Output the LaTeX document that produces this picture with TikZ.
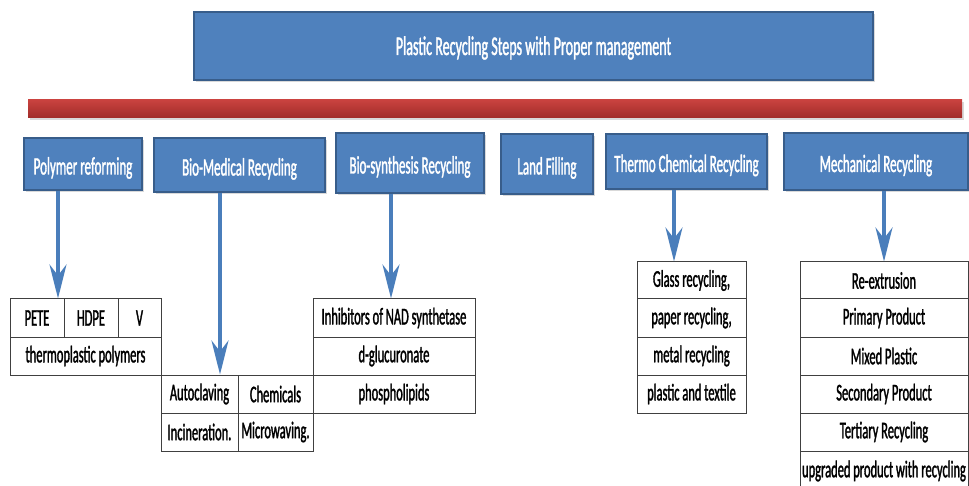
\documentclass[tikz,border=0pt]{standalone}
\usepackage{fontspec}
\setmainfont{Carlito}[FakeStretch=0.52,FakeBold=1.3]
\usetikzlibrary{arrows.meta,shadows}
\definecolor{boxblue}{HTML}{4F81BD}
\definecolor{boxedge}{HTML}{385D8A}
\definecolor{arrblue}{HTML}{4A7EBB}
\definecolor{barred}{HTML}{C9423F}
\definecolor{bardark}{HTML}{A02C29}
\definecolor{gridc}{HTML}{404040}
\begin{document}
\begin{tikzpicture}[x=1pt,y=-1pt,
 hdr/.style={draw=boxedge, line width=2pt, fill=boxblue, text=white, inner sep=0pt,
   font=\fontsize{25}{28}\selectfont, text height=21pt, text depth=0pt,
   drop shadow={opacity=0.3,shadow xshift=1.5pt,shadow yshift=-2pt}},
 cell/.style={draw=gridc, line width=1pt, inner sep=0pt, font=\fontsize{24}{26}\selectfont, text=black},
 arr/.style={arrblue, line width=3.5pt, -{Stealth[length=34pt,width=17pt,inset=11pt]}},
]
\useasboundingbox (0,0) rectangle (969,486);
\clip (0,0) rectangle (969,486);
% title
\node[hdr, minimum width=679pt, minimum height=68pt, font=\fontsize{27}{30}\selectfont, text height=18pt] (title) at (533.5,46) {Plastic Recycling Steps with Proper management};
% red bar
\node[draw=none, top color=barred, bottom color=bardark, minimum width=934pt, minimum height=18pt, inner sep=0pt,
  drop shadow={opacity=0.3,shadow xshift=1.5pt,shadow yshift=-2pt}] (bar) at (495,109) {};
% headers
\node[hdr, minimum width=118pt, minimum height=52pt] (pr) at (83,164) {Polymer reforming};
\node[hdr, minimum width=171pt, minimum height=54pt] (bm) at (239.5,165) {Bio-Medical Recycling};
\node[hdr, minimum width=148pt, minimum height=60pt] (bs) at (410,163) {Bio-synthesis Recycling};
\node[hdr, minimum width=92pt, minimum height=60pt] (lf) at (547,164) {Land Filling};
\node[hdr, minimum width=161pt, minimum height=55pt] (tc) at (686.5,161.5) {Thermo Chemical Recycling};
\node[hdr, minimum width=184pt, minimum height=57pt] (mr) at (876,161.5) {Mechanical Recycling};
% polymer table
\node[cell, minimum width=54pt, minimum height=38pt] (pete) at (37,318) {PETE};
\node[cell, minimum width=54pt, minimum height=38pt] (hdpe) at (91,318) {HDPE};
\node[cell, minimum width=43pt, minimum height=38pt] (v) at (139.5,318) {V};
\node[cell, minimum width=151pt, minimum height=38pt] (thermo) at (85.5,356) {thermoplastic polymers};
% bio-medical table
\node[cell, minimum width=77pt, minimum height=38pt] (auto) at (199.5,394) {Autoclaving};
\node[cell, minimum width=75pt, minimum height=38pt] (chem) at (275.5,394) {Chemicals};
\node[cell, minimum width=77pt, minimum height=38pt] (inc) at (199.5,432) {Incineration.};
\node[cell, minimum width=75pt, minimum height=38pt] (micro) at (275.5,432) {Microwaving.};
% bio-synthesis table
\node[cell, minimum width=162pt, minimum height=38pt] (nad) at (394,318) {Inhibitors of NAD synthetase};
\node[cell, minimum width=162pt, minimum height=38pt] (dglu) at (394,356) {d-glucuronate};
\node[cell, minimum width=162pt, minimum height=38pt] (phos) at (394,394) {phospholipids};
% thermo table
\node[cell, minimum width=109pt, minimum height=37pt] (glass) at (691.5,280.5) {Glass recycling,};
\node[cell, minimum width=109pt, minimum height=38pt] (paper) at (691.5,318) {paper recycling,};
\node[cell, minimum width=109pt, minimum height=38pt] (metal) at (691.5,356) {metal recycling};
\node[cell, minimum width=109pt, minimum height=38pt] (plast) at (691.5,394) {plastic and textile};
% mechanical table
\node[cell, minimum width=168pt, minimum height=37pt] (reex) at (884,280.5) {Re-extrusion};
\node[cell, minimum width=168pt, minimum height=38pt] (prim) at (884,318) {Primary Product};
\node[cell, minimum width=168pt, minimum height=38pt] (mix) at (884,356) {Mixed Plastic};
\node[cell, minimum width=168pt, minimum height=38pt] (sec) at (884,394) {Secondary Product};
\node[cell, minimum width=168pt, minimum height=38pt] (tert) at (884,432) {Tertiary Recycling};
\node[cell, minimum width=168pt, minimum height=40pt] (upg) at (884,471) {upgraded product with recycling};
% arrows
\draw[arr] ([xshift=-25pt]pr.south) -- ([xshift=-25pt]pr.south |- pete.north);
\draw[arr] ([xshift=-19.5pt]bm.south) -- ([xshift=-19.5pt]bm.south |- auto.north);
\draw[arr] ([xshift=-19pt]bs.south) -- ([xshift=-19pt]bs.south |- nad.north);
\draw[arr] ([xshift=-12.5pt]tc.south) -- ([xshift=-12.5pt]tc.south |- glass.north);
\draw[arr] ([xshift=8pt]mr.south) -- ([xshift=8pt]mr.south |- reex.north);
\end{tikzpicture}
\end{document}
